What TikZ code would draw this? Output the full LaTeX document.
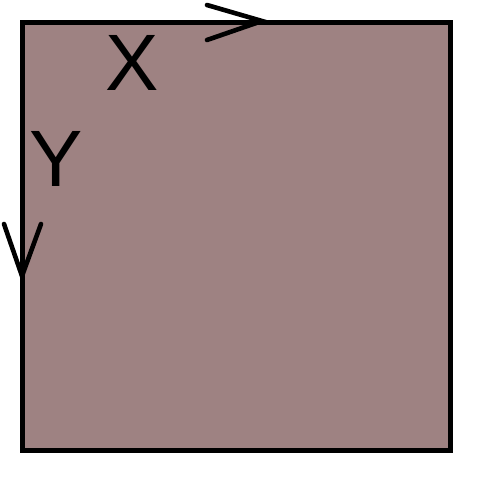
\documentclass[tikz,border=0pt]{standalone}
\usepackage{fontspec}
\setmainfont{Liberation Sans}
\definecolor{boxfill}{RGB}{158,130,130}
\tikzset{
  frame/.style={draw=black,line width=5pt,fill=boxfill},
  chevron/.style={draw=black,line width=4.6pt,line cap=round,line join=miter},
  axislabel/.style={font=\fontsize{80}{80}\selectfont,inner sep=0pt,anchor=base}
}
\begin{document}
\begin{tikzpicture}[x=1pt,y=-1pt]
\useasboundingbox (0,0) rectangle (478,477);
\path[frame] (22.5,22.5) rectangle (450.5,450.5);
% X chevron
\coordinate (xa) at (207,5);
\coordinate (xtip) at (262,21);
\coordinate (xb) at (207,40);
\draw[chevron] (xa) -- (xtip) -- (xb);
% Y chevron
\coordinate (ya) at (4,224);
\coordinate (ytip) at (22,276);
\coordinate (yb) at (41,224);
\draw[chevron] (ya) -- (ytip) -- (yb);
\node[axislabel] (xl) at (132,90) {X};
\node[axislabel] (yl) at (56,186) {Y};
\end{tikzpicture}
\end{document}
